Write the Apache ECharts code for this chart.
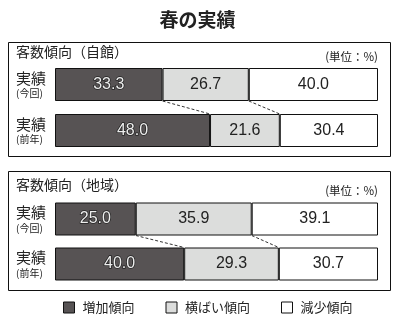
<!DOCTYPE html>
<html>
<head>
<meta charset="utf-8">
<script src="https://cdn.jsdelivr.net/npm/echarts@6/dist/echarts.min.js"></script>
<style>
  html, body { margin: 0; padding: 0; background: #fff; }
  #chart { width: 395px; height: 323px; }
</style>
</head>
<body>
<div id="chart"></div>
<script>
// Survey periods (rows) and the three trend shares (%) per panel
const categories = ['今回', '前年'];
const seriesNames = ['増加傾向', '横ばい傾向', '減少傾向'];

const selfIncrease = [33.3, 48.0];
const selfFlat = [26.7, 21.6];
const selfDecrease = [40.0, 30.4];

const areaIncrease = [25.0, 40.0];
const areaFlat = [35.9, 29.3];
const areaDecrease = [39.1, 30.7];

const panelTitles = ['客数傾向（自館）', '客数傾向（地域）'];
const unitLabel = '(単位：%)';

const FONT = '"Noto Sans CJK JP", "Noto Sans", sans-serif';
const NUM_FONT = '"Liberation Sans", Arial, sans-serif';
const colors = ['#575354', '#dcdddc', '#ffffff'];
const BAR_W = 33;

const chart = echarts.init(document.getElementById('chart'), null, { renderer: 'canvas' });

const panels = [
  { data: [selfIncrease, selfFlat, selfDecrease], grid: { left: 55, top: 61.5, width: 323, height: 92 } },
  { data: [areaIncrease, areaFlat, areaDecrease], grid: { left: 55, top: 196.5, width: 323, height: 90 } }
];

const grids = [], xAxes = [], yAxes = [], series = [];

panels.forEach((p, gi) => {
  grids.push(p.grid);
  xAxes.push({ type: 'value', gridIndex: gi, min: 0, max: 100, show: false });
  yAxes.push({
    type: 'category', gridIndex: gi, data: categories, inverse: true,
    axisLine: { show: false }, axisTick: { show: false },
    axisLabel: {
      align: 'left', margin: 39,
      formatter: v => '{a|実績}\n{b|(' + v + ')}',
      rich: {
        a: { fontFamily: FONT, fontSize: 15, color: '#222', lineHeight: 18 },
        b: { fontFamily: FONT, fontSize: 10, color: '#222', lineHeight: 13 }
      }
    }
  });
  p.data.forEach((vals, si) => {
    const dark = si === 0;
    series.push({
      name: seriesNames[si], type: 'bar', stack: 'g' + gi,
      xAxisIndex: gi, yAxisIndex: gi, barWidth: BAR_W,
      data: vals,
      itemStyle: { color: colors[si], borderColor: '#111', borderWidth: 1 },
      label: {
        show: true, position: 'inside',
        formatter: d => d.value.toFixed(1),
        fontFamily: NUM_FONT, fontSize: 16,
        color: dark ? '#eeeeee' : '#222',
        textBorderColor: dark ? '#222' : 'transparent',
        textBorderWidth: dark ? 1.5 : 0
      },
      emphasis: { disabled: true },
      animation: false
    });
  });
  // Dashed connectors between cumulative boundaries of the two rows
  const inc = p.data[0], flat = p.data[1];
  const links = [
    [inc[0], inc[1]],
    [inc[0] + flat[0], inc[1] + flat[1]]
  ];
  series.push({
    type: 'custom', xAxisIndex: gi, yAxisIndex: gi,
    encode: { x: [0, 1] },
    data: links,
    renderItem: (params, api) => {
      const a = api.coord([api.value(0), 0]);
      const b = api.coord([api.value(1), 1]);
      return {
        type: 'line',
        shape: { x1: a[0], y1: a[1] + BAR_W / 2, x2: b[0], y2: b[1] - BAR_W / 2 },
        style: { stroke: '#333', lineWidth: 1, lineDash: [3, 2] }
      };
    },
    silent: true, animation: false
  });
});

const graphic = [];
[[8, 42, 382, 114], [8, 171, 382, 119]].forEach(r => {
  graphic.push({
    type: 'rect', shape: { x: r[0] + 0.5, y: r[1] + 0.5, width: r[2], height: r[3] },
    style: { fill: 'none', stroke: '#111', lineWidth: 1 }, silent: true
  });
});
graphic.push(
  { type: 'text', left: 16, top: 45, style: { text: panelTitles[0], font: '14px ' + FONT, fill: '#222' } },
  { type: 'text', right: 17, top: 51, style: { text: unitLabel, font: '11.5px ' + FONT, fill: '#222' } },
  { type: 'text', left: 16, top: 178, style: { text: panelTitles[1], font: '14px ' + FONT, fill: '#222' } },
  { type: 'text', right: 17, top: 185, style: { text: unitLabel, font: '11.5px ' + FONT, fill: '#222' } }
);

chart.setOption({
  animation: false,
  color: colors,
  title: {
    text: '春の実績', left: 'center', top: 5,
    textStyle: { fontFamily: FONT, fontSize: 19, fontWeight: 'bold', color: '#222' }
  },
  legend: {
    data: seriesNames, left: 63, top: 301, padding: 0,
    itemWidth: 11, itemHeight: 11, itemGap: 31,
    icon: 'rect',
    itemStyle: { borderColor: '#111', borderWidth: 1 },
    textStyle: { fontFamily: FONT, fontSize: 13, color: '#222', padding: [0, 0, 0, 3] },
    selectedMode: false
  },
  grid: grids,
  xAxis: xAxes,
  yAxis: yAxes,
  series: series,
  graphic: graphic
});
</script>
</body>
</html>
